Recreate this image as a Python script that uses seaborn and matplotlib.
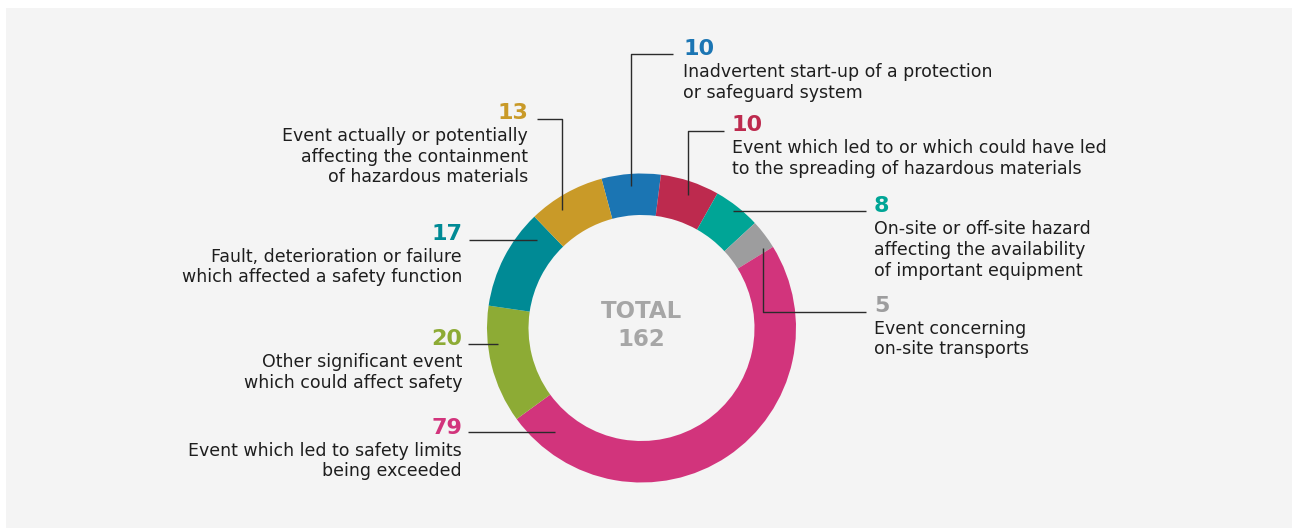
import matplotlib
matplotlib.use("Agg")
import matplotlib.pyplot as plt
from matplotlib.patches import Rectangle
import seaborn as sns
import numpy as np

# ---- data ----
values = [10, 10, 8, 5, 79, 20, 17, 13]
categories = [
    "Inadvertent start-up of a protection\nor safeguard system",
    "Event which led to or which could have led\nto the spreading of hazardous materials",
    "On-site or off-site hazard\naffecting the availability\nof important equipment",
    "Event concerning\non-site transports",
    "Event which led to safety limits\nbeing exceeded",
    "Other significant event\nwhich could affect safety",
    "Fault, deterioration or failure\nwhich affected a safety function",
    "Event actually or potentially\naffecting the containment\nof hazardous materials",
]
colors = ["#1b75b3", "#bd2a4e", "#00a596", "#9d9d9e",
          "#d2347c", "#8dab35", "#008a95", "#c99a28"]
total_label = "TOTAL"

# ---- style ----
sns.set_theme(style="white")
plt.rcParams["font.family"] = ["DejaVu Sans"]
palette = sns.color_palette(colors)

W, H = 1292, 528
fig = plt.figure(figsize=(W / 100, H / 100), dpi=100, facecolor="white")
ax = fig.add_axes([0, 0, 1, 1])

def Y(y):
    return H - y

# panel background
ax.add_patch(Rectangle((6, 0), W - 6, H - 8, facecolor="#f4f4f4",
                       edgecolor="none", zorder=0))

cx, cy = 641.5, 328
r_out, r_in = 154.5, 113
ax.pie(values, colors=palette, startangle=105, counterclock=False,
       radius=r_out, center=(cx, Y(cy)),
       wedgeprops=dict(width=r_out - r_in, linewidth=0))

ax.set_xlim(0, W)
ax.set_ylim(0, H)
ax.set_aspect("auto")
ax.axis("off")

# ---- annotation layout: leader polyline (px), label x, number baseline, alignment ----
layout = [
    ([(631, 186), (631, 54), (673, 54)], 683, 55, "left"),
    ([(688, 195), (688, 131), (724, 131)], 732, 131, "left"),
    ([(733, 211), (866, 211)], 874, 212.5, "left"),
    ([(763, 248), (763, 312), (866, 312)], 874, 312, "left"),
    ([(555, 432), (468, 432)], 462, 434, "right"),
    ([(498, 344), (468, 344)], 462, 345, "right"),
    ([(537, 239.5), (469, 239.5)], 462, 240, "right"),
    ([(562, 210), (562, 119), (537, 119)], 528, 119, "right"),
]

text_color = "#1e1e1e"
for val, cat, col, (pts, tx, nb, ha) in zip(values, categories, palette, layout):
    xs = [p[0] for p in pts]
    ys = [Y(p[1]) for p in pts]
    ax.plot(xs, ys, color="#2b2b2b", lw=1.0, solid_capstyle="butt", zorder=3)
    ax.text(tx, Y(nb), str(val), color=col, fontsize=16, fontweight="bold",
            ha=ha, va="baseline")
    for i, line in enumerate(cat.split("\n")):
        ax.text(tx, Y(nb + 21.7 + 20.8 * i), line, color=text_color,
                fontsize=12.5, ha=ha, va="baseline")

ax.text(cx, Y(318.5), total_label, color="#a6a6a6", fontsize=16.5,
        fontweight="bold", ha="center", va="baseline")
ax.text(cx, Y(346.5), str(sum(values)), color="#a6a6a6", fontsize=16.5,
        fontweight="bold", ha="center", va="baseline")

fig.savefig("out.png", dpi=100, facecolor="white")
